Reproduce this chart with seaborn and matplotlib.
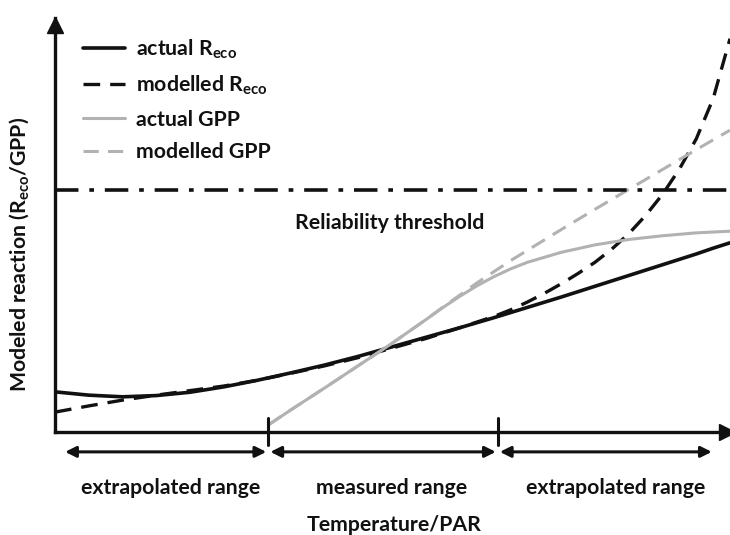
import numpy as np
import pandas as pd
import matplotlib
matplotlib.use("Agg")
import matplotlib.pyplot as plt
import seaborn as sns

# Respiration curves over the full driver range
x_reco = [0, 0.5, 1, 1.5, 2, 2.5, 3, 3.5, 4, 4.5, 5, 5.5, 6, 6.5,
          6.75, 7, 7.25, 7.5, 7.75, 8, 8.25, 8.5, 8.75, 9, 9.25, 9.5, 9.75, 10]
actual_reco = [0.97, 0.89, 0.85, 0.88, 0.96, 1.09, 1.25, 1.43, 1.62, 1.83, 2.06, 2.29, 2.52, 2.76,
               2.885, 3.01, 3.135, 3.26, 3.39, 3.52, 3.65, 3.78, 3.91, 4.04, 4.17, 4.30, 4.44, 4.57]
modelled_reco = [0.48, 0.63, 0.77, 0.89, 1.00, 1.11, 1.25, 1.42, 1.60, 1.80, 2.03, 2.26, 2.52, 2.79,
                 2.95, 3.14, 3.35, 3.58, 3.83, 4.10, 4.42, 4.79, 5.23, 5.74, 6.35, 7.08, 8.05, 9.50]

# Photosynthesis curves start at the lower edge of the measured range
x_gpp = [3.16, 3.5, 4, 4.5, 5, 5.5, 5.75, 6, 6.25, 6.5, 6.75, 7, 7.5, 8, 8.5, 9, 9.5, 10]
actual_gpp = [0.17, 0.54, 1.07, 1.61, 2.15, 2.72, 3.01, 3.28, 3.53, 3.75, 3.94, 4.10, 4.34, 4.52,
              4.65, 4.74, 4.81, 4.85]
modelled_gpp = [0.17, 0.54, 1.07, 1.61, 2.15, 2.72, 3.02, 3.31, 3.60, 3.87, 4.14, 4.39, 4.89, 5.38,
                5.86, 6.34, 6.82, 7.29]

threshold = 5.85
range_edges = [0.15, 3.16, 6.56, 9.76]
range_labels = ["extrapolated range", "measured range", "extrapolated range"]
range_label_x = [1.72, 4.99, 8.31]
legend_labels = [r"actual R$_\mathrm{eco}$", r"modelled R$_\mathrm{eco}$", "actual GPP", "modelled GPP"]

sns.set_theme(style="white")
plt.rcParams["font.family"] = ["Lato", "DejaVu Sans"]
plt.rcParams["font.weight"] = "bold"
plt.rcParams["axes.labelweight"] = "bold"
plt.rcParams["mathtext.fontset"] = "custom"
plt.rcParams["mathtext.rm"] = "Lato:bold"

fig = plt.figure(figsize=(7.30, 5.35), dpi=100)
ax = fig.add_axes([55 / 730, 103 / 535, 675 / 730, 414 / 535])

black, grey = "#111111", "#b2b2b2"
fs = 15.3

sns.lineplot(x=x_reco, y=actual_reco, ax=ax, color=black, lw=2.6, label=legend_labels[0])
sns.lineplot(x=x_reco, y=modelled_reco, ax=ax, color=black, lw=2.4, label=legend_labels[1])
sns.lineplot(x=x_gpp, y=actual_gpp, ax=ax, color=grey, lw=2.2, label=legend_labels[2])
sns.lineplot(x=x_gpp, y=modelled_gpp, ax=ax, color=grey, lw=2.2, label=legend_labels[3])
lines = ax.get_lines()
lines[1].set_dashes((5, 3))
lines[3].set_dashes((5, 3))
for ln in lines:
    ln.set_solid_joinstyle("round")
    ln.set_dash_joinstyle("round")

ax.axhline(threshold, color=black, lw=2.6, dashes=(6.5, 3, 1.3, 3))
ax.text(4.96, 5.05, "Reliability threshold", ha="center", va="center", fontsize=fs, color=black)

ax.set_xlim(0, 10)
ax.set_ylim(0, 10)
ax.set_xticks([])
ax.set_yticks([])
for side in ("top", "right"):
    ax.spines[side].set_visible(False)
for side in ("left", "bottom"):
    ax.spines[side].set_color(black)
    ax.spines[side].set_linewidth(2.4)

# axis arrowheads
ax.plot([0], [9.82], marker="^", ms=11, color=black, clip_on=False)
ax.plot([9.96], [0], marker=">", ms=11, color=black, clip_on=False)

# range boundaries and double arrows below the axis
for xb in range_edges[1:3]:
    ax.plot([xb, xb], [0.34, -0.31], color=black, lw=2.2, clip_on=False)
for i in range(3):
    x0 = range_edges[i] + (0.03 if i > 0 else 0)
    x1 = range_edges[i + 1] - 0.03
    ax.annotate("", xy=(x1, -0.48), xytext=(x0, -0.48), xycoords="data",
                annotation_clip=False,
                arrowprops=dict(arrowstyle="<|-|>", color=black, lw=2.2,
                                mutation_scale=16, shrinkA=0, shrinkB=0))
    ax.text(range_label_x[i], -1.36, range_labels[i],
            ha="center", va="center", fontsize=fs, color=black, clip_on=False)

ax.set_xlabel("Temperature/PAR", fontsize=fs, color=black)
ax.xaxis.label.set_va("center")
ax.xaxis.set_label_coords(0.503, -0.225)
ax.set_ylabel(r"Modeled reaction (R$_\mathrm{eco}$/GPP)", fontsize=fs, color=black)
ax.yaxis.label.set_va("center")
ax.yaxis.set_label_coords(-0.052, 0.43)

leg = ax.legend(loc="upper left", bbox_to_anchor=(0.041, 0.952), frameon=False,
                fontsize=fs, handlelength=2.0, handletextpad=0.5, labelspacing=0.58,
                borderaxespad=0, borderpad=0)
for t in leg.get_texts():
    t.set_color(black)

fig.savefig("out.png", dpi=100)
